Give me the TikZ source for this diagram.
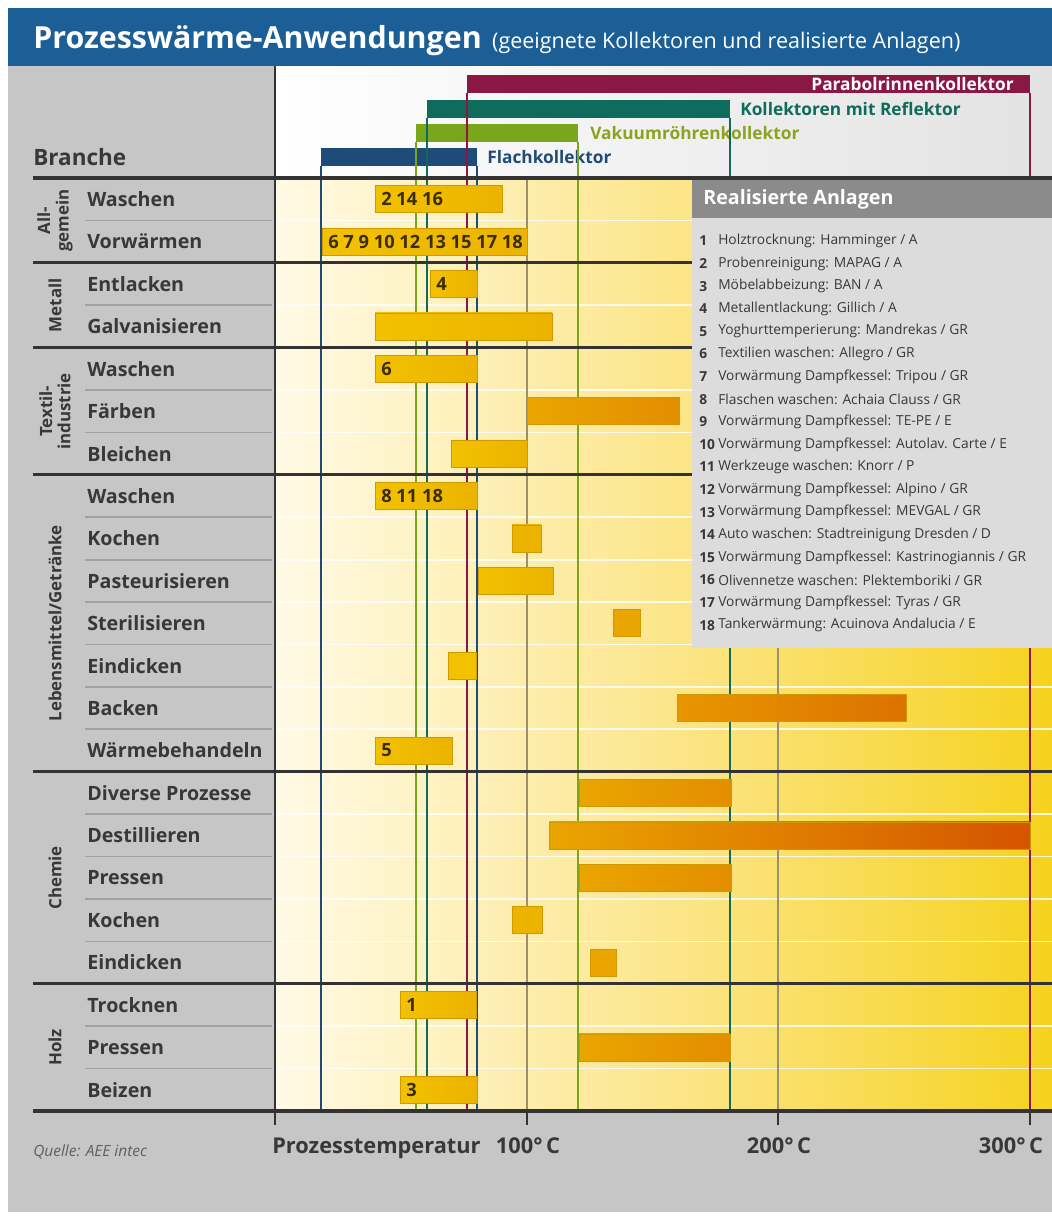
\documentclass[tikz,border=0pt]{standalone}
\usepackage{fontspec}
\setmainfont{Open Sans}
\setsansfont{Open Sans}
\usetikzlibrary{positioning}

\definecolor{titleblue}{HTML}{1C5E96}
\definecolor{panelgray}{HTML}{C6C6C6}
\definecolor{rulegray}{HTML}{A2A2A2}
\definecolor{labelgray}{HTML}{383838}
\definecolor{darkrule}{HTML}{333333}
\definecolor{flachblue}{HTML}{1F4B78}
\definecolor{vakgreen}{HTML}{7AA61C}
\definecolor{vaktext}{HTML}{8EA21E}
\definecolor{refteal}{HTML}{0F6B5B}
\definecolor{parabolred}{HTML}{8A1744}
\definecolor{gridolive}{HTML}{9A9266}
\definecolor{creamL}{HTML}{FFFAE6}
\definecolor{creamM}{HTML}{FCE68C}
\definecolor{creamR}{HTML}{F6D21E}
\definecolor{headR}{HTML}{E2E2E2}
\definecolor{baryel}{HTML}{F2C100}
\definecolor{baryeldk}{HTML}{ECB300}
\definecolor{barorg}{HTML}{EAA500}
\definecolor{barorgdk}{HTML}{E38E00}
\definecolor{barbake}{HTML}{E89600}
\definecolor{barbakedk}{HTML}{DC7200}
\definecolor{barred}{HTML}{D55400}
\definecolor{barline}{HTML}{CE9A00}
\definecolor{bartext}{HTML}{3A2E00}
\definecolor{legbody}{HTML}{DCDCDC}
\definecolor{leghead}{HTML}{8B8B8B}

\begin{document}
\begin{tikzpicture}[x=0.025cm,y=-0.025cm,
                    row label/.style={anchor=west,inner sep=0pt,text=labelgray,font=\bfseries\fontsize{14}{14}\selectfont},
                    group label/.style={rotate=90,align=center,inner sep=0pt,text=labelgray,font=\bfseries\fontsize{12}{13}\selectfont},
                    bar/.style={draw=barline,line width=0.5pt},
                    bar text/.style={anchor=west,inner sep=0pt,text=bartext,font=\bfseries\fontsize{13}{13}\selectfont},
                    coll line/.style={line width=1.5pt},
                    coll text/.style={inner sep=0pt,font=\bfseries\fontsize{12.3}{12.3}\selectfont},
                    group line/.style={darkrule,line width=2.2pt},
                    row line/.style={rulegray,line width=1.2pt},
                    leg num/.style={anchor=west,inner sep=0pt,text=labelgray,font=\bfseries\fontsize{9.8}{9.8}\selectfont},
                    leg text/.style={anchor=west,inner sep=0pt,text=labelgray,font=\fontsize{9.8}{9.8}\selectfont},
                    axis text/.style={anchor=base,inner sep=0pt,text=labelgray,font=\bfseries\fontsize{15.5}{15.5}\selectfont}]

 \useasboundingbox (0,0) rectangle (1052,1225);
 \fill[white] (0,0) rectangle (1052,1225);
 \fill[panelgray] (8,8) rectangle (1052,1212);

 % title
 \fill[titleblue] (8,8) rectangle (1052,66);
 \node[anchor=base west,inner sep=0pt,text=white,font=\bfseries\fontsize{21.6}{21.6}\selectfont] (title) at (33,48) {Prozesswärme-Anwendungen};
 \node[base right=7pt of title,inner sep=0pt,text=white,font=\fontsize{15.3}{15.3}\selectfont] (subtitle) {(geeignete Kollektoren und realisierte Anlagen)};

 % chart area
 \shade[left color=white,right color=headR] (275,66) rectangle (1052,178);
 \shade[left color=creamL,right color=creamR,middle color=creamM] (275,178) rectangle (1052,1111);

 \foreach \i in {1,3,5,6,8,9,10,11,12,13,15,16,17,18,20,21}
 {
  \pgfmathsetmacro{\ry}{178+42.41*\i}
  \draw[row line] (85,\ry) -- (272,\ry);
  \draw[white,line width=1.2pt,opacity=0.8] (275,\ry) -- (1052,\ry);
 }

 \draw[gridolive,line width=1pt] (527,178) -- (527,1111);
 \draw[gridolive,line width=1pt] (778,178) -- (778,1111);

 % collectors
 \node[coll text,anchor=west,text=refteal] (reflektor) at (740,109) {Kollektoren mit Reflektor};
 \node[coll text,anchor=west,text=vaktext] (vakuum) at (590,133) {Vakuumröhrenkollektor};
 \node[coll text,anchor=west,text=flachblue] (flach) at (487,157) {Flachkollektor};

 \fill[parabolred] (467,75) rectangle (1030,93);
 \node[coll text,anchor=east,text=white] (parabol) at (1014,84) {Parabolrinnenkollektor};
 \fill[refteal] (427,100) rectangle (730,118);
 \fill[vakgreen] (416,124) rectangle (578,142);
 \fill[flachblue] (321,148) rectangle (477,166);

 \draw[coll line,parabolred] (467,93) -- (467,1111) (1030,93) -- (1030,1111);
 \draw[coll line,refteal] (427,118) -- (427,1111) (730,118) -- (730,1111);
 \draw[coll line,vakgreen] (416,142) -- (416,1111) (578,142) -- (578,1111);
 \draw[coll line,flachblue] (321,166) -- (321,1111) (477,166) -- (477,1111);

 % bars
 \foreach \i/\xa/\xb/\cl/\cr in {1/375/502/baryel/baryeldk, 2/322/527/baryel/baryeldk,
     3/430/477/baryel/baryeldk, 4/375/552/baryel/baryeldk, 5/375/477/baryel/baryeldk,
     6/527/679/barorg/barorgdk, 7/451/527/baryel/baryeldk, 8/375/477/baryel/baryeldk,
     9/512/541/baryeldk/baryeldk, 10/478/553/baryel/baryeldk, 11/613/640/barorg/barorg,
     12/448/476/baryel/baryel, 13/677/906/barbake/barbakedk, 14/375/452/baryel/baryeldk,
     15/579/731/barorg/barorgdk, 16/549/1030/barorg/barred, 17/579/731/barorg/barorgdk,
     18/512/542/baryeldk/baryeldk, 19/590/616/barorg/barorg, 20/400/476/baryel/baryeldk,
     21/579/730/barorg/barorgdk, 22/400/477/baryel/baryeldk}
 {
  \pgfmathsetmacro{\ry}{178+42.41*(\i-0.5)}
  \shade[bar,left color=\cl,right color=\cr] (\xa,\ry-13.5) rectangle (\xb,\ry+13.5);
 }

 \foreach \i/\xa/\txt in {1/375/{2 14 16}, 2/322/{6 7 9 10 12 13 15 17 18}, 3/430/4,
     5/375/6, 8/375/{8 11 18}, 14/375/5, 20/400/1, 22/400/3}
 {
  \pgfmathsetmacro{\ry}{178+42.41*(\i-0.5)}
  \node[bar text] (barlab\i) at (\xa+6,\ry) {\txt};
 }

 % group lines and axis
 \foreach \y in {178,262.8,347.6,474.9,771.7,983.8,1111}
  \draw[group line] (33,\y) -- (1052,\y);
 \draw[darkrule,line width=2pt] (275,66) -- (275,1125);
 \foreach \x in {527,778,1030}
  \draw[darkrule,line width=1.5pt] (\x,1111) -- (\x,1125);

 % legend
 \fill[legbody] (692,180) rectangle (1052,648);
 \fill[leghead] (692,180) rectangle (1052,218);
 \node[anchor=west,inner sep=0pt,text=white,font=\bfseries\fontsize{14}{14}\selectfont] (legtitle) at (703,199) {Realisierte Anlagen};
 \foreach \txt [count=\n] in {Holztrocknung: Hamminger / A, Probenreinigung: MAPAG / A,
     Möbelabbeizung: BAN / A, Metallentlackung: Gillich / A,
     Yoghurttemperierung: Mandrekas / GR, Textilien waschen: Allegro / GR,
     Vorwärmung Dampfkessel: Tripou / GR, Flaschen waschen: Achaia Clauss / GR,
     Vorwärmung Dampfkessel: TE-PE / E, Vorwärmung Dampfkessel: Autolav. Carte / E,
     Werkzeuge waschen: Knorr / P, Vorwärmung Dampfkessel: Alpino / GR,
     Vorwärmung Dampfkessel: MEVGAL / GR, Auto waschen: Stadtreinigung Dresden / D,
     Vorwärmung Dampfkessel: Kastrinogiannis / GR, Olivennetze waschen: Plektemboriki / GR,
     Vorwärmung Dampfkessel: Tyras / GR, Tankerwärmung: Acuinova Andalucia / E}
 {
  \pgfmathsetmacro{\ly}{241+22.6*(\n-1)}
  \node[leg num] (legnum\n) at (699,\ly) {\n};
  \node[leg text] (legtxt\n) at (718,\ly) {\txt};
 }

 % left column
 \node[anchor=west,inner sep=0pt,text=labelgray,font=\bfseries\fontsize{16}{16}\selectfont] (branche) at (33,157) {Branche};
 \foreach \lab [count=\i] in {Waschen, Vorwärmen, Entlacken, Galvanisieren, Waschen, Färben,
     Bleichen, Waschen, Kochen, Pasteurisieren, Sterilisieren, Eindicken, Backen,
     Wärmebehandeln, Diverse Prozesse, Destillieren, Pressen, Kochen, Eindicken,
     Trocknen, Pressen, Beizen}
 {
  \pgfmathsetmacro{\ry}{178+42.41*(\i-0.5)}
  \node[row label] (row\i) at (87,\ry) {\lab};
 }

 \node[group label] (allgemein) at (55,220.4) {All-\\gemein};
 \node[group label] (metall) at (55,305.2) {Metall};
 \node[group label] (textil) at (55,411.3) {Textil-\\industrie};
 \node[group label] (lebensmittel) at (55,623.3) {Lebensmittel/Getränke};
 \node[group label] (chemie) at (55,877.8) {Chemie};
 \node[group label] (holz) at (55,1047.4) {Holz};

 % axis labels
 \node[axis text,anchor=base west] (prozess) at (272,1153) {Prozesstemperatur};
 \node[axis text] (t100) at (528,1153) {100°\,C};
 \node[axis text] (t200) at (779,1153) {200°\,C};
 \node[axis text] (t300) at (1011,1153) {300°\,C};
 \node[anchor=west,inner sep=0pt,text=labelgray!80,font=\itshape\fontsize{11}{11}\selectfont] (quelle) at (33,1152) {Quelle: AEE intec};

\end{tikzpicture}
\end{document}
